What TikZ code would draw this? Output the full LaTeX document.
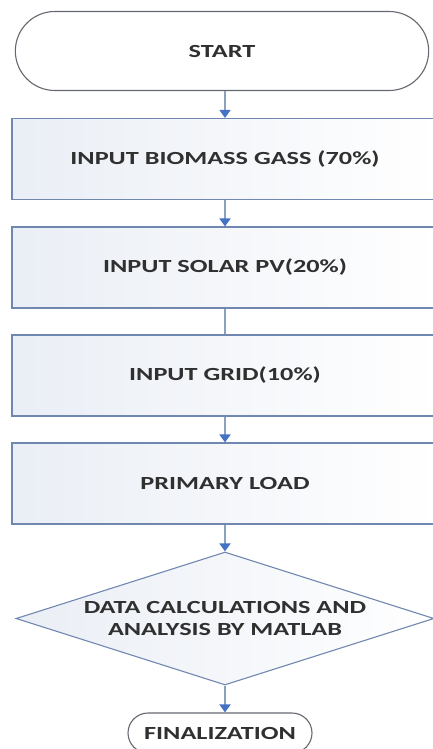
\documentclass[tikz,border=0pt]{standalone}
\usepackage{fontspec}
\setmainfont{Carlito}[FakeStretch=1.42]
\usetikzlibrary{arrows.meta, shapes.geometric, shapes.misc}

\definecolor{edgeblue}{RGB}{112,136,176}
\definecolor{termgray}{RGB}{100,104,112}
\definecolor{shaftblue}{RGB}{140,160,192}
\definecolor{tipblue}{RGB}{68,114,196}
\definecolor{boxfill}{RGB}{234,238,245}
\definecolor{textgray}{RGB}{48,48,48}

\begin{document}
\begin{tikzpicture}[
  x=1pt, y=-1pt,
  every node/.style = {font=\fontsize{18.5}{22}\selectfont\bfseries, text=textgray, align=center},
  terminal/.style = {rounded rectangle, draw=termgray, line width=1.1pt, fill=white},
  process/.style = {rectangle, draw=edgeblue, line width=1.1pt, left color=boxfill, right color=white,
                    minimum width=426pt, minimum height=81pt, inner sep=0pt},
  decision/.style = {diamond, draw=edgeblue, line width=1.1pt, left color=boxfill, right color=white,
                     aspect=3.14, minimum width=418pt, minimum height=133pt, inner sep=0pt},
  flow/.style = {draw=shaftblue, line width=1.6pt, -{Triangle[color=tipblue, width=11pt, length=8pt]}},
  link/.style = {draw=shaftblue, line width=1.6pt}
]

% Page frame
\useasboundingbox (0,0) rectangle (433,749);

% Nodes
\node[terminal, minimum width=420pt, minimum height=79pt] (start) at (222,51) {START};
\node[process] (biomass) at (225,159) {INPUT BIOMASS GASS (70\%)};
\node[process] (solar) at (225,267.5) {INPUT SOLAR PV(20\%)};
\node[process] (grid) at (225,375.5) {INPUT GRID(10\%)};
\node[process] (load) at (225,483.5) {PRIMARY LOAD};
\node[decision] (calc) at (225,618.5) {\\[-10pt]DATA CALCULATIONS AND\\ANALYSIS BY MATLAB};
\node[terminal, minimum width=184pt, minimum height=40pt, inner sep=0pt] (final) at (220,733) {FINALIZATION};

% Connectors
\draw[flow] (start.south -| biomass.north) -- (biomass.north);
\draw[flow] (biomass.south) -- (solar.north);
\draw[link] (solar.south) -- (grid.north);
\draw[flow] (grid.south) -- (load.north);
\draw[flow] (load.south) -- (calc.north);
\draw[flow] (calc.south) -- (calc.south |- final.north);

\end{tikzpicture}
\end{document}
